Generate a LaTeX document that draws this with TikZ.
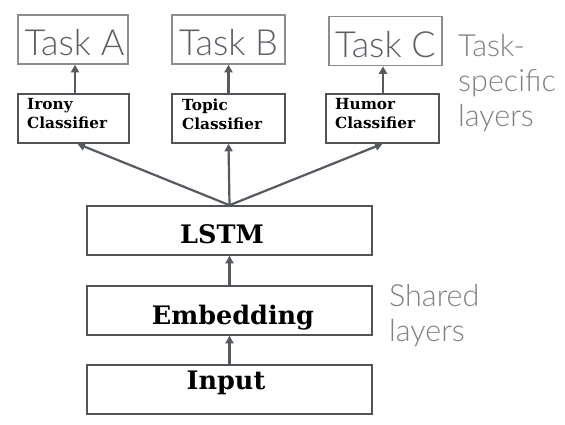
\documentclass[tikz,border=0pt]{standalone}
\usepackage{fontspec}
\usetikzlibrary{arrows.meta}
\newfontfamily\lightsans{Lato Light}
\newfontfamily\boldserif{DejaVu Serif}[BoldFont={DejaVu Serif Bold}]
\definecolor{boxline}{HTML}{505358}
\definecolor{taskline}{HTML}{8C8C8C}
\definecolor{tasktext}{HTML}{5C6066}
\definecolor{sidetext}{HTML}{7E8186}
\definecolor{arrowc}{HTML}{555A61}
\tikzset{
  layerbox/.style={draw=boxline, line width=1.6pt, fill=white, inner sep=0pt},
  taskbox/.style={draw=taskline, line width=1.6pt, inner sep=0pt},
  tasklabel/.style={text=tasktext, font=\lightsans\fontsize{36}{36}\selectfont, anchor=base, inner sep=0pt},
  sidelabel/.style={text=sidetext, font=\lightsans\fontsize{30.5}{35}\selectfont, align=left, anchor=north west, inner sep=0pt},
  biglabel/.style={font=\boldserif\bfseries\fontsize{25.5}{25.5}\selectfont, anchor=base, inner sep=0pt},
  smalllabel/.style={font=\boldserif\bfseries\fontsize{15.3}{19}\selectfont, align=left, anchor=north west, inner sep=0pt},
  conn/.style={draw=arrowc, line width=2.2pt, -{Triangle[length=7.5pt,width=8pt]}}
}
\begin{document}
\begin{tikzpicture}[x=1pt,y=-1pt]
\useasboundingbox[fill=white] (0,0) rectangle (565,424);
% task boxes
\node[taskbox, minimum width=110pt, minimum height=49pt] (taskA) at (73,39.5) {};
\node[taskbox, minimum width=113pt, minimum height=49pt] (taskB) at (228.5,39.5) {};
\node[taskbox, minimum width=113pt, minimum height=49pt] (taskC) at (385.5,41) {};
\node[tasklabel] (tA) at (74.5,55) {Task A};
\node[tasklabel] (tB) at (228.5,55) {Task B};
\node[tasklabel] (tC) at (385.5,57) {Task C};
% classifier boxes
\node[layerbox, minimum width=111pt, minimum height=49pt] (irony) at (73.5,118.5) {};
\node[layerbox, minimum width=113pt, minimum height=49pt] (topic) at (228.5,118.5) {};
\node[layerbox, minimum width=113pt, minimum height=49pt] (humor) at (382.5,118.5) {};
\node[smalllabel] (ironyt) at (27,98.5) {Irony\\Classifier};
\node[smalllabel] (topict) at (182,98.5) {Topic\\Classifier};
\node[smalllabel] (humort) at (335,98.5) {Humor\\Classifier};
% shared layers
\node[layerbox, minimum width=285pt, minimum height=49pt] (lstm) at (229.5,230.5) {};
\node[layerbox, minimum width=285pt, minimum height=49pt] (emb) at (229.5,310.5) {};
\node[layerbox, minimum width=285pt, minimum height=49pt] (inp) at (229.5,389.5) {};
\node[biglabel] (lstmt) at (222,243) {LSTM};
\node[biglabel] (embt) at (233,324) {Embedding};
\node[biglabel] (inpt) at (226,389) {Input};
% side labels
\node[sidelabel] (tsl) at (458,34) {Task-\\specific\\layers};
\node[sidelabel] (shl) at (389,284) {Shared\\layers};
% connectors
\draw[conn] (inp.north) -- (emb.south);
\draw[conn] (emb.north) -- (lstm.south);
\draw[conn] (lstm.north) -- (topic.south);
\draw[conn] (lstm.north) -- ([xshift=4pt]irony.south);
\draw[conn] (lstm.north) -- (humor.south);
\draw[conn] ([xshift=1.5pt]irony.north) -- ([xshift=1.5pt]irony.north |- taskA.south);
\draw[conn] (topic.north) -- (taskB.south);
\draw[conn] ([xshift=0.5pt]humor.north) -- ([xshift=0.5pt]humor.north |- taskC.south);
\end{tikzpicture}
\end{document}
